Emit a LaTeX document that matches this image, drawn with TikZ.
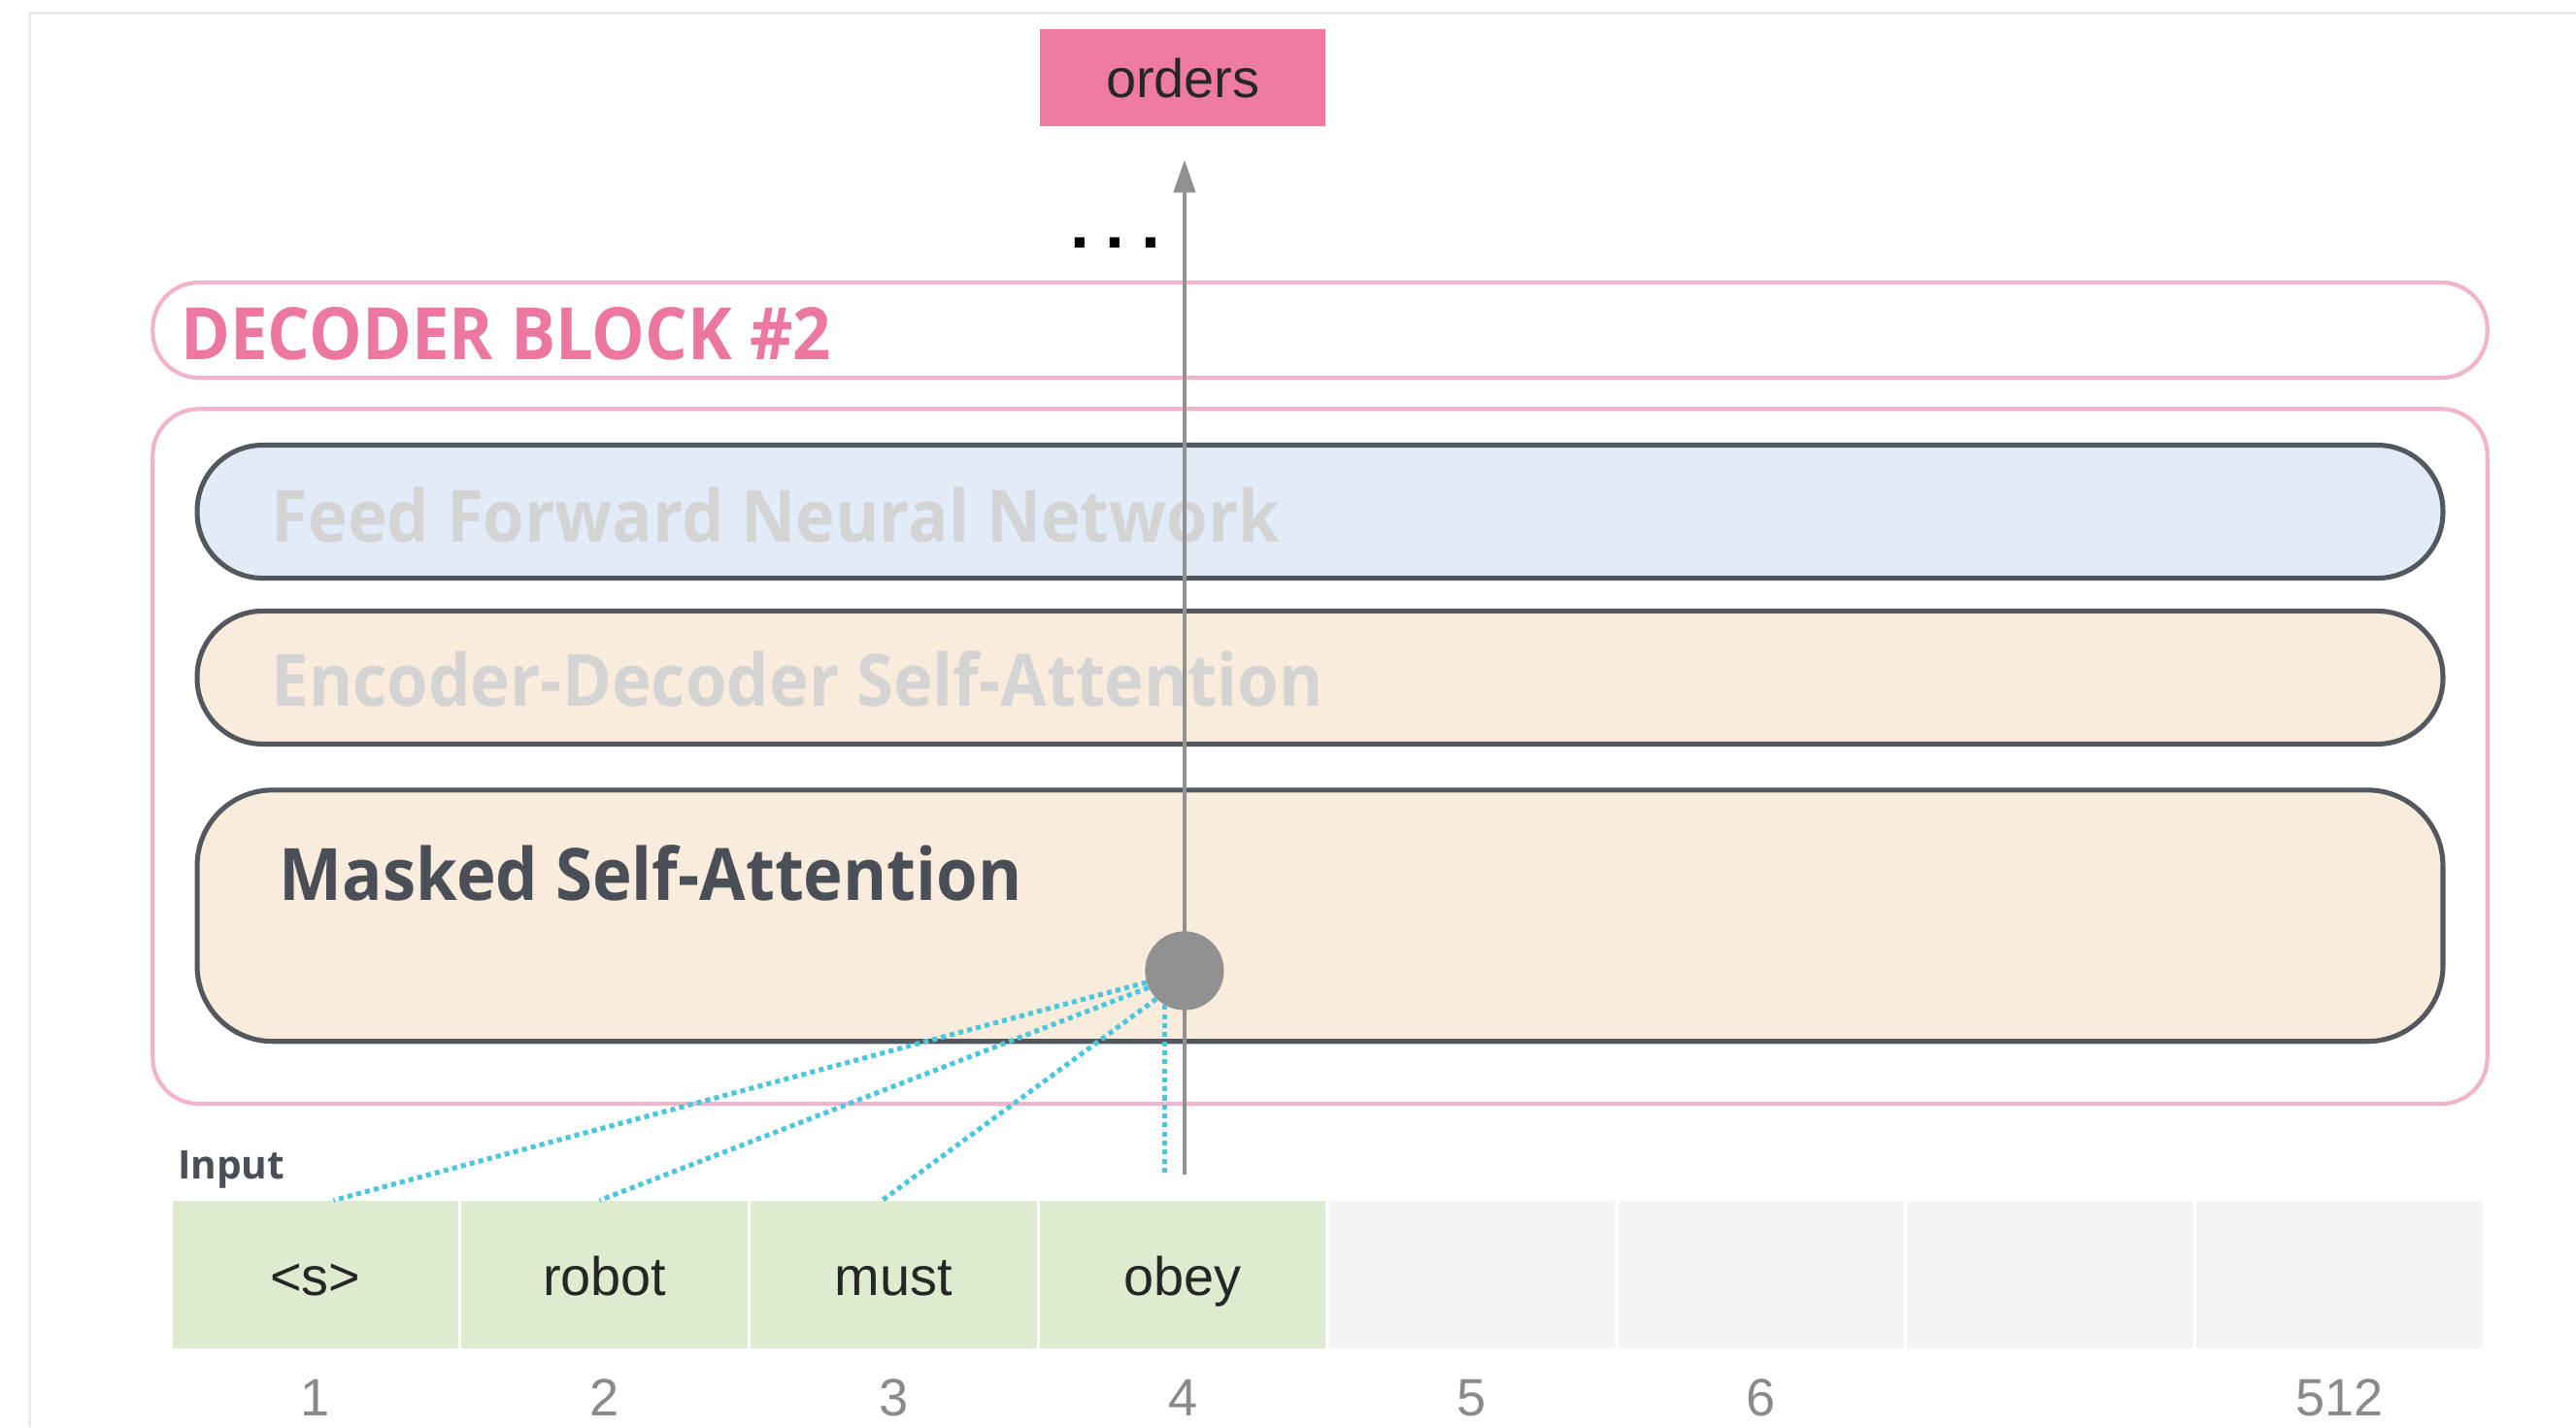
\documentclass[tikz,border=0pt]{standalone}
\usepackage{fontspec}
\setmainfont{Liberation Sans}
\newfontfamily\osfont{Open Sans}
\usetikzlibrary{arrows.meta}
\definecolor{pinkfill}{HTML}{EE7BA1}
\definecolor{pinktext}{HTML}{EC77A0}
\definecolor{pinkline}{HTML}{F2B3CD}
\definecolor{boxline}{HTML}{53575E}
\definecolor{ffnnfill}{HTML}{E2ECF8}
\definecolor{attfill}{HTML}{F9ECDC}
\definecolor{fadetext}{HTML}{D4D4D4}
\definecolor{darktext}{HTML}{4A4F57}
\definecolor{greencell}{HTML}{DFEBCE}
\definecolor{greycell}{HTML}{F4F4F4}
\definecolor{cyanline}{HTML}{4CC6DC}
\definecolor{arrowgrey}{HTML}{919191}
\definecolor{numgrey}{HTML}{8A8A8A}
\definecolor{framegrey}{HTML}{ECECEC}
\newcommand{\condensed}[1]{\scalebox{0.925}[1]{#1}}
\tikzset{
  layerbox/.style={draw=boxline, line width=3pt, rounded corners=40pt},
  pinkbox/.style={draw=pinkline, line width=2.5pt},
  cell/.style={minimum width=174pt, minimum height=90pt, inner sep=0pt, text height=26pt, text depth=0pt, font=\fontsize{33}{36}\selectfont, text=black!85},
  numlabel/.style={anchor=base, text=numgrey, font=\fontsize{32}{36}\selectfont},
  title/.style={anchor=base west, inner sep=0pt, font=\osfont\bfseries\fontsize{44}{50}\selectfont},
  attn/.style={draw=cyanline, line width=3pt, dash pattern=on 3pt off 2.5pt},
}
\begin{document}
\begin{tikzpicture}[x=1pt,y=-1pt]
\useasboundingbox (0,0) rectangle (1568,869);
% frame
\draw[framegrey, line width=2pt] (1568,8) -- (18,8) -- (18,869);
% output
\node[fill=pinkfill, minimum width=174pt, minimum height=59pt, inner sep=0pt,
      font=\fontsize{33}{36}\selectfont, text=black!85] (orders) at (720,47.5) {orders};
% dots
\node[anchor=base, inner sep=0pt, font=\bfseries\fontsize{42}{42}\selectfont] (dots) at (679,151) {.\hspace{10pt}.\hspace{10pt}.};
% decoder block title box
\draw[pinkbox, rounded corners=28pt] (93,172) rectangle (1514,230);
\node[title, text=pinktext] (dtitle) at (110,219) {\condensed{DECODER BLOCK \#2}};
% outer block
\draw[pinkbox, rounded corners=28pt] (93,249) rectangle (1514,672);
% layers
\draw[layerbox, fill=ffnnfill] (120,271) rectangle (1487,352);
\draw[layerbox, fill=attfill] (120,372) rectangle (1487,453);
\draw[layerbox, fill=attfill, rounded corners=46pt] (120,481) rectangle (1487,634);
\node[title, text=fadetext] (ffnn) at (165,330) {\condensed{Feed Forward Neural Network}};
\node[title, text=fadetext] (encdec) at (165,430) {\condensed{Encoder-Decoder Self-Attention}};
\node[title, text=darktext] (masked) at (170,548) {\condensed{Masked Self-Attention}};
% input label
\node[anchor=base west, inner sep=0pt, text=darktext, font=\osfont\bfseries\fontsize{24}{26}\selectfont] (inputlbl) at (108,718) {Input};
% cells
\node[cell, fill=greencell] (c1) at (192,776) {<s>};
\node[cell, fill=greencell] (c2) at (368,776) {robot};
\node[cell, fill=greencell] (c3) at (544,776) {must};
\node[cell, fill=greencell] (c4) at (720,776) {obey};
\node[cell, fill=greycell] (c5) at (896,776) {};
\node[cell, fill=greycell] (c6) at (1072,776) {};
\node[cell, fill=greycell] (c7) at (1248,776) {};
\node[cell, fill=greycell] (c8) at (1424,776) {};
\node[numlabel] (n1) at (192,862) {1};
\node[numlabel] (n2) at (368,862) {2};
\node[numlabel] (n3) at (544,862) {3};
\node[numlabel] (n4) at (720,862) {4};
\node[numlabel] (n5) at (896,862) {5};
\node[numlabel] (n6) at (1072,862) {6};
\node[numlabel] (n8) at (1424,862) {512};
% arrow
\coordinate (astart) at (721,715);
\draw[arrowgrey, line width=2.5pt, -{Triangle[length=20pt,width=13pt]}, shorten >=20pt] (astart) -- (orders.south -| astart);
% attention point
\node[circle, fill=arrowgrey, minimum size=48pt, inner sep=0pt] (pt) at (721,591) {};
\draw[attn] (pt.197) -- ([xshift=11pt]c1.north);
\draw[attn] (pt.205) -- ([xshift=-3pt]c2.north);
\draw[attn] (pt.225) -- ([xshift=-7pt]c3.north);
\coordinate (v4) at (709,715);
\draw[attn] (pt.240) -- (pt.240 |- v4);
\end{tikzpicture}
\end{document}
